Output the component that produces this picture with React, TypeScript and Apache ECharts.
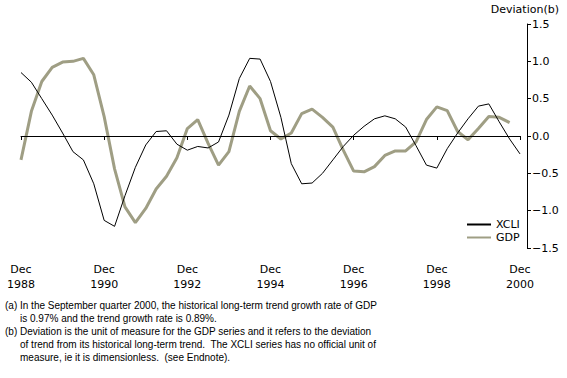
import React, { useEffect, useRef } from "react";
import * as echarts from "echarts";

const months = ["Dec", "Mar", "Jun", "Sep"];
const startYear = 1988;
const quarterCount = 49;
const categories: string[] = [];
for (let i = 0; i < quarterCount; i++) {
  const m = months[i % 4];
  const y = startYear + Math.ceil(i / 4);
  categories.push(`${m} ${m === "Dec" ? startYear + i / 4 : y}`);
}

const xcli = [
  0.85, 0.72, 0.5, 0.28, 0.04, -0.21, -0.32, -0.64,
  -1.13, -1.21, -0.8, -0.42, -0.12, 0.06, 0.07, -0.11,
  -0.19, -0.14, -0.16, -0.08, 0.28, 0.77, 1.04, 1.03,
  0.73, 0.25, -0.37, -0.64, -0.63, -0.5, -0.32, -0.14,
  0.01, 0.13, 0.23, 0.27, 0.23, 0.12, -0.13, -0.39,
  -0.43, -0.17, 0.04, 0.23, 0.4, 0.43, 0.19, -0.04,
  -0.24,
];

const gdp = [
  -0.32, 0.33, 0.73, 0.92, 0.99, 1.0, 1.04, 0.82,
  0.26, -0.44, -0.95, -1.16, -0.97, -0.71, -0.54, -0.29,
  0.1, 0.22, -0.1, -0.39, -0.21, 0.33, 0.67, 0.5,
  0.07, -0.04, 0.04, 0.3, 0.36, 0.25, 0.12, -0.19,
  -0.47, -0.48, -0.41, -0.26, -0.2, -0.2, -0.08, 0.22,
  0.39, 0.34, 0.06, -0.05, 0.1, 0.26, 0.25, 0.18,
];

const yTicks = { min: -1.5, max: 1.5, interval: 0.5 };

const footnotes = [
  "(a) In the September quarter 2000, the historical long-term trend growth rate of GDP",
  "is 0.97% and the trend growth rate is 0.89%.",
  "(b) Deviation is the unit of measure for the GDP series and it refers to the deviation",
  "of trend from its historical long-term trend.  The XCLI series has no official unit of",
  "measure, ie it is dimensionless.  (see Endnote).",
];

const FONT = "DejaVu Sans";

export default function App() {
  const ref = useRef<HTMLDivElement>(null);
  useEffect(() => {
    if (!ref.current) return;
    const chart = echarts.init(ref.current, null, { renderer: "svg" });
    const footGraphics = footnotes.map((t, i) => ({
      type: "text",
      left: i === 1 || i === 3 || i === 4 ? 20 : 5,
      top: 300 + i * 13,
      style: { text: t, font: `10px "Liberation Sans"`, fill: "#000" },
    }));
    chart.setOption({
      animation: false,
      backgroundColor: "#fff",
      grid: { left: 21, right: 47, top: 24, bottom: 130 },
      xAxis: {
        type: "category",
        data: categories,
        boundaryGap: false,
        position: "bottom",
        offset: 8,
        axisLine: { lineStyle: { color: "#000", width: 1 } },
        axisTick: { interval: 7, length: 4, lineStyle: { color: "#000" } },
        axisLabel: {
          interval: 7,
          margin: 6,
          color: "#000",
          fontFamily: FONT,
          fontSize: 11,
          lineHeight: 15,
          formatter: (v: string) => v.replace(" ", "\n"),
        },
        splitLine: { show: false },
      },
      yAxis: {
        type: "value",
        position: "right",
        offset: 7,
        min: yTicks.min,
        max: yTicks.max,
        interval: yTicks.interval,
        axisLine: { show: true, lineStyle: { color: "#000", width: 1 } },
        axisTick: { show: true, length: 4, lineStyle: { color: "#000" } },
        axisLabel: {
          margin: 5,
          color: "#000",
          fontFamily: FONT,
          fontSize: 11,
          formatter: (v: number) => (v < 0 ? "\u2212" + Math.abs(v).toFixed(1) : v.toFixed(1)),
        },
        splitLine: { show: false },
      },
      legend: {
        orient: "vertical",
        left: 466,
        top: 219,
        itemWidth: 24,
        itemHeight: 12,
        itemGap: 2,
        padding: 0,
        itemStyle: { opacity: 0 },
        textStyle: { fontFamily: FONT, fontSize: 11, color: "#000" },
        data: ["XCLI", "GDP"],
      },
      graphic: [
        {
          type: "text",
          right: 8,
          top: 4,
          style: { text: "Deviation(b)", font: `11px "${FONT}"`, fill: "#000" },
        },
        ...footGraphics,
      ],
      series: [
        {
          name: "XCLI",
          type: "line",
          data: xcli,
          symbol: "none",
          lineStyle: { color: "#000", width: 1 },
          itemStyle: { color: "#000" },
          z: 3,
          markLine: {
            silent: true,
            symbol: "none",
            label: { show: false },
            lineStyle: { color: "#000", width: 1, type: "solid" },
            data: [{ yAxis: 0 }],
          },
        },
        {
          name: "GDP",
          type: "line",
          data: gdp,
          symbol: "none",
          lineStyle: { color: "#9f9e84", width: 3 },
          itemStyle: { color: "#9f9e84" },
          z: 2,
        },
      ],
    });
    return () => chart.dispose();
  }, []);
  return (
    <div
      ref={ref}
      style={{ position: "absolute", left: 0, top: 0, width: 567, height: 378 }}
    />
  );
}
